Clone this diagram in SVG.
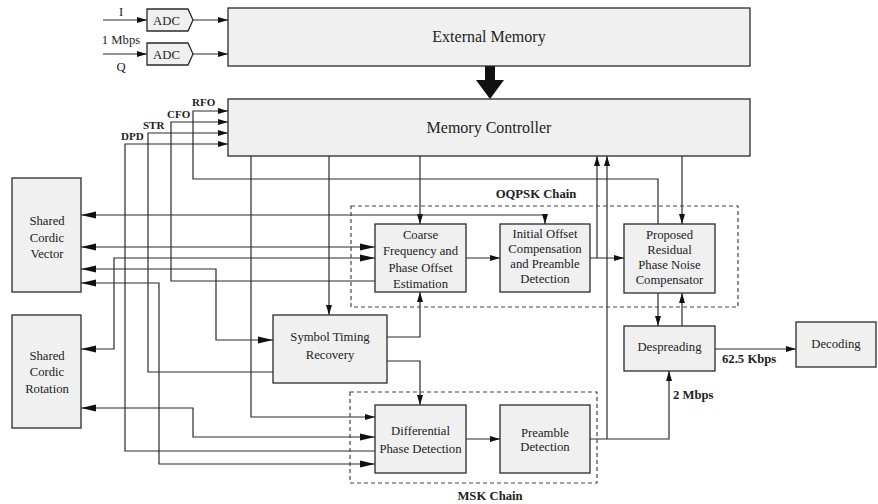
<svg xmlns="http://www.w3.org/2000/svg" width="878" height="504" viewBox="0 0 878 504">
<style>
.box{fill:#f0f0f0;stroke:#2a2a2a;stroke-width:1.3}
.t{font-family:'Liberation Serif','Times New Roman','DejaVu Serif',serif;font-size:12.7px;fill:#222;text-anchor:middle}
.big{font-size:16px}
.b{font-family:'Liberation Serif','Times New Roman','DejaVu Serif',serif;font-weight:bold;fill:#222}
.w{fill:none;stroke:#2a2a2a;stroke-width:1.2}
.dash{fill:none;stroke:#444;stroke-width:1.2;stroke-dasharray:4,3}
</style>
<defs>
<marker id="s" markerUnits="userSpaceOnUse" markerWidth="10" markerHeight="6" refX="10" refY="3" orient="auto-start-reverse"><path d="M0,0 L10,3 L0,6 z" fill="#111"/></marker>
<marker id="L" markerUnits="userSpaceOnUse" markerWidth="15" markerHeight="8" refX="15" refY="4" orient="auto-start-reverse"><path d="M0,0.5 L15,4 L0,7.5 z" fill="#111"/></marker>
</defs>
<rect width="878" height="504" fill="#fff"/>
<g id="connectors">
<path class="w" d="M103,20 H147" marker-end="url(#s)"/>
<path class="w" d="M193,20 H228" marker-end="url(#s)"/>
<path class="w" d="M103,54 H147" marker-end="url(#s)"/>
<path class="w" d="M193,54 H228" marker-end="url(#s)"/>
<polygon points="485,66 495,66 495,80 504,80 490,99 476,80 485,80" fill="#111"/>
<path class="w" d="M658,224 V179 H193 V111 H228" marker-end="url(#s)"/>
<path class="w" d="M375,281 H171 V122 H228" marker-end="url(#s)"/>
<path class="w" d="M273,372 H148 V133 H228" marker-end="url(#s)"/>
<path class="w" d="M375,451 H125 V144 H228" marker-end="url(#s)"/>
<path class="w" d="M420,156 V224" marker-end="url(#s)"/>
<path class="w" d="M329,156 V315" marker-end="url(#s)"/>
<path class="w" d="M251,156 V417 H375" marker-end="url(#s)"/>
<path class="w" d="M682,156 V224" marker-end="url(#s)"/>
<path class="w" d="M545,224 V215 H81" marker-start="url(#s)" marker-end="url(#L)"/>
<path class="w" d="M81,247 H375" marker-start="url(#L)" marker-end="url(#L)"/>
<path class="w" d="M81,349 H114 V258 H375" marker-start="url(#L)" marker-end="url(#L)"/>
<path class="w" d="M81,269 H216 V340 H273" marker-start="url(#L)" marker-end="url(#L)"/>
<path class="w" d="M81,283 H159 V464 H375" marker-start="url(#L)" marker-end="url(#L)"/>
<path class="w" d="M81,408 H193 V437 H375" marker-start="url(#L)" marker-end="url(#L)"/>
<path class="w" d="M387,337 H420 V292" marker-end="url(#s)"/>
<path class="w" d="M387,361 H420 V405" marker-end="url(#s)"/>
<path class="w" d="M466,258 H500" marker-end="url(#s)"/>
<path class="w" d="M590,258 H624" marker-end="url(#s)"/>
<path class="w" d="M597,258 V156" marker-end="url(#s)"/>
<path class="w" d="M590,439 H669 V371" marker-end="url(#s)"/>
<path class="w" d="M607,439 V156" marker-end="url(#s)"/>
<path class="w" d="M658,293 V326" marker-end="url(#s)"/>
<path class="w" d="M682,326 V293" marker-end="url(#s)"/>
<path class="w" d="M715,349 H796" marker-end="url(#s)"/>
<path class="w" d="M466,439 H500" marker-end="url(#s)"/>
</g>
<g id="labels">
<text class="t" x="121" y="16">I</text>
<text class="t" x="121" y="44">1 Mbps</text>
<text class="t" x="121" y="71">Q</text>
<text class="b" x="192" y="106" font-size="11">RFO</text>
<text class="b" x="167" y="118" font-size="11">CFO</text>
<text class="b" x="143" y="129" font-size="11">STR</text>
<text class="b" x="121" y="140" font-size="11">DPD</text>
<text class="b" x="722" y="363" font-size="12.7">62.5 Kbps</text>
<text class="b" x="673" y="399" font-size="12.7">2 Mbps</text>
</g>
<g id="oqpsk-chain">
<rect class="dash" x="351" y="206" width="387" height="101"/>
<text class="b" x="536" y="198" font-size="12.7" text-anchor="middle">OQPSK Chain</text>
</g>
<g id="msk-chain">
<rect class="dash" x="350" y="392" width="247" height="91"/>
<text class="b" x="490" y="500" font-size="12.7" text-anchor="middle">MSK Chain</text>
</g>
<g id="adc-i"><polygon class="box" points="147,9 188,9 193,20 188,31 147,31"/><text class="t" x="166.5" y="25">ADC</text></g>
<g id="adc-q"><polygon class="box" points="147,43 188,43 193,54 188,65 147,65"/><text class="t" x="166.5" y="59">ADC</text></g>
<g id="external-memory"><rect class="box" x="228" y="8" width="522" height="58"/><text class="t big" x="489" y="42">External Memory</text></g>
<g id="memory-controller"><rect class="box" x="228" y="99" width="522" height="57"/><text class="t big" x="489" y="133">Memory Controller</text></g>
<g id="shared-cordic-vector"><rect class="box" x="12" y="178" width="69" height="114"/><text class="t" x="47" y="225">Shared</text><text class="t" x="47" y="242">Cordic</text><text class="t" x="47" y="258">Vector</text></g>
<g id="shared-cordic-rotation"><rect class="box" x="12" y="315" width="69" height="113"/><text class="t" x="47" y="360">Shared</text><text class="t" x="47" y="376">Cordic</text><text class="t" x="47" y="393">Rotation</text></g>
<g id="coarse"><rect class="box" x="375" y="224" width="91" height="68"/><text class="t" x="420.5" y="239">Coarse</text><text class="t" x="420.5" y="255">Frequency and</text><text class="t" x="420.5" y="272">Phase Offset</text><text class="t" x="420.5" y="288">Estimation</text></g>
<g id="initial-offset"><rect class="box" x="500" y="224" width="90" height="68"/><text class="t" x="545" y="238">Initial Offset</text><text class="t" x="545" y="253">Compensation</text><text class="t" x="545" y="268">and Preamble</text><text class="t" x="545" y="283">Detection</text></g>
<g id="proposed"><rect class="box" x="624" y="224" width="91" height="69"/><text class="t" x="669.5" y="239">Proposed</text><text class="t" x="669.5" y="254">Residual</text><text class="t" x="669.5" y="269">Phase Noise</text><text class="t" x="669.5" y="284">Compensator</text></g>
<g id="symbol-timing"><rect class="box" x="273" y="315" width="114" height="68"/><text class="t" x="330" y="341">Symbol Timing</text><text class="t" x="330" y="359">Recovery</text></g>
<g id="differential"><rect class="box" x="375" y="405" width="91" height="68"/><text class="t" x="420.5" y="435">Differential</text><text class="t" x="420.5" y="453">Phase Detection</text></g>
<g id="preamble"><rect class="box" x="500" y="405" width="90" height="68"/><text class="t" x="545" y="437">Preamble</text><text class="t" x="545" y="451">Detection</text></g>
<g id="despreading"><rect class="box" x="624" y="326" width="91" height="45"/><text class="t" x="669.5" y="351">Despreading</text></g>
<g id="decoding"><rect class="box" x="796" y="322" width="80" height="45"/><text class="t" x="836" y="348">Decoding</text></g>
</svg>
